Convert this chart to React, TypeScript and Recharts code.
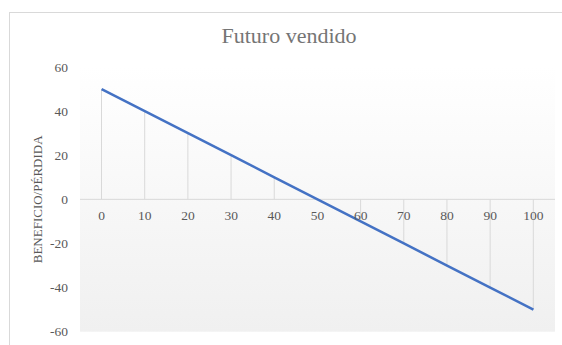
import React from 'react';
import { ComposedChart, Line, Bar, XAxis, YAxis, CartesianGrid, ReferenceLine } from 'recharts';

const precios = [0, 10, 20, 30, 40, 50, 60, 70, 80, 90, 100];
const beneficio = [50, 40, 30, 20, 10, 0, -10, -20, -30, -40, -50];
const yTicks = [-60, -40, -20, 0, 20, 40, 60];

const data = precios.map((p, i) => ({ precio: p, beneficio: beneficio[i] }));

const FONT = '"Liberation Serif", "Times New Roman", serif';
const GREY = '#595959';

export default function App() {
  return (
    <div style={{ position: 'fixed', left: 0, top: 0, width: 562, height: 345, overflow: 'hidden', background: '#fff', fontFamily: FONT }}>
      <style>{`.recharts-wrapper text, .recharts-wrapper tspan { font-family: "Liberation Serif", "Times New Roman", serif !important; }`}</style>
      <div style={{ position: 'absolute', left: 9, top: 12, width: 560, height: 340, borderLeft: '1px solid #d9d9d9', borderTop: '1px solid #d9d9d9' }} />
      <div style={{ position: 'absolute', left: 0, top: 23, width: 578, textAlign: 'center', fontSize: 22, color: '#757575', fontFamily: FONT, lineHeight: '26px' }}>
        Futuro vendido
      </div>
      <div style={{ position: 'absolute', left: 0, top: 0 }}>
        <ComposedChart width={562} height={345} data={data} margin={{ top: 67, right: 7, bottom: 12.3, left: 0 }} style={{ fontFamily: FONT }}>
          <defs>
            <linearGradient id="plotBg" x1="0" y1="0" x2="0" y2="1">
              <stop offset="0%" stopColor="#ffffff" />
              <stop offset="100%" stopColor="#f0f0f0" />
            </linearGradient>
          </defs>
          <CartesianGrid horizontal={false} vertical={false} fill="url(#plotBg)" stroke="none" />
          <XAxis
            dataKey="precio"
            type="category"
            height={1}
            axisLine={false}
            tickLine={false}
            tickSize={0}
            tickMargin={-121.4}
            interval={0}
            tick={{ fill: GREY, fontSize: 13.5 }}
          />
          <YAxis
            type="number"
            domain={[-60, 60]}
            ticks={yTicks}
            width={80}
            axisLine={false}
            tickLine={false}
            tickSize={0}
            tickMargin={12}
            tick={{ fill: GREY, fontSize: 13.5 }}
            label={{ value: 'BENEFICIO/PÉRDIDA', angle: -90, position: 'center', dx: -3, fill: GREY, fontSize: 13 }}
          />
          <ReferenceLine y={0} stroke="#d9d9d9" strokeWidth={1} />
          <Bar dataKey="beneficio" barSize={1} fill="#d9d9d9" isAnimationActive={false} />
          <Line dataKey="beneficio" stroke="#4472C4" strokeWidth={2.5} dot={false} isAnimationActive={false} />
        </ComposedChart>
      </div>
    </div>
  );
}
